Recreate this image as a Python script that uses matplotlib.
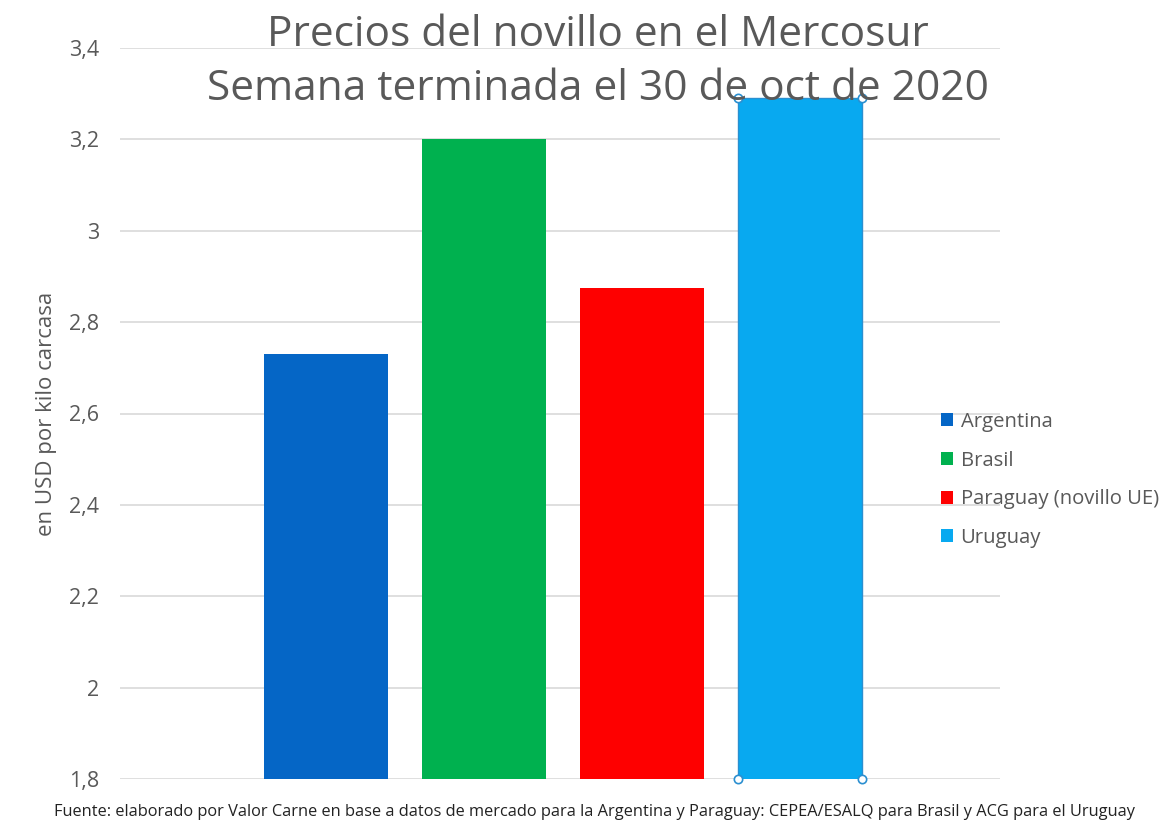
import matplotlib
matplotlib.use("Agg")
import matplotlib.pyplot as plt
from matplotlib.patches import Patch

countries = ["Argentina", "Brasil", "Paraguay (novillo UE)", "Uruguay"]
prices = [2.73, 3.20, 2.875, 3.29]
colors = ["#0566C6", "#00B14F", "#FE0000", "#08A9F0"]
yticks = [1.8, 2.0, 2.2, 2.4, 2.6, 2.8, 3.0, 3.2, 3.4]
ytick_labels = ["1,8", "2", "2,2", "2,4", "2,6", "2,8", "3", "3,2", "3,4"]
title = "Precios del novillo en el Mercosur\nSemana terminada el 30 de oct de 2020"
ylabel = "en USD por kilo carcasa"
source = ("Fuente: elaborado por Valor Carne en base a datos de mercado para la Argentina y "
          "Paraguay: CEPEA/ESALQ para Brasil y ACG para el Uruguay")

plt.rcParams["font.family"] = ["Open Sans", "DejaVu Sans"]
fig = plt.figure(figsize=(11.73, 8.24), dpi=100)
ax = fig.add_axes([120/1173, 1-779/824, 880/1173, 731/824])

x = list(range(len(countries)))
bars = ax.bar(x, prices, width=0.79, color=colors, zorder=2)
# selection outline on last bar
b = bars[-1]
b.set_edgecolor("#2B8FD0")
b.set_linewidth(1.0)
bx0, bw = b.get_x(), b.get_width()
ax.plot([bx0, bx0 + bw, bx0, bx0 + bw], [prices[-1], prices[-1], 1.8, 1.8], "o",
        ms=6, mfc="white", mec="#2B8FD0", mew=1.2, zorder=4, clip_on=False)

ax.set_xlim(-1.304, 4.266)
ax.set_ylim(1.8, 3.4)
ax.set_yticks(yticks)
ax.set_yticklabels(ytick_labels, fontsize=15.5, color="#595959")
ax.set_xticks([])
ax.tick_params(axis="y", length=0, pad=15)
ax.grid(axis="y", color="#D9D9D9", linewidth=1.2, zorder=0)
for s in ax.spines.values():
    s.set_visible(False)
ax.set_ylabel(ylabel, fontsize=16, color="#595959")
ax.yaxis.set_label_coords(-63/880, 0.5)

fig.text(598/1173, 1-62/824, title, ha="center", va="center", fontsize=30.5,
         color="#595959", linespacing=1.38)

handles = [Patch(facecolor=c, edgecolor="none") for c in colors]
fig.legend(handles, countries, loc="center left", bbox_to_anchor=(923/1173, 1-480/824),
           frameon=False, fontsize=14.6, labelcolor="#595959", handlelength=0.6,
           handleheight=0.6, handletextpad=0.35, labelspacing=0.92)

fig.text(595/1173, 1-812/824, source, ha="center", va="center", fontsize=11.8,
         color="#222222")

fig.savefig("out.png", dpi=100)
